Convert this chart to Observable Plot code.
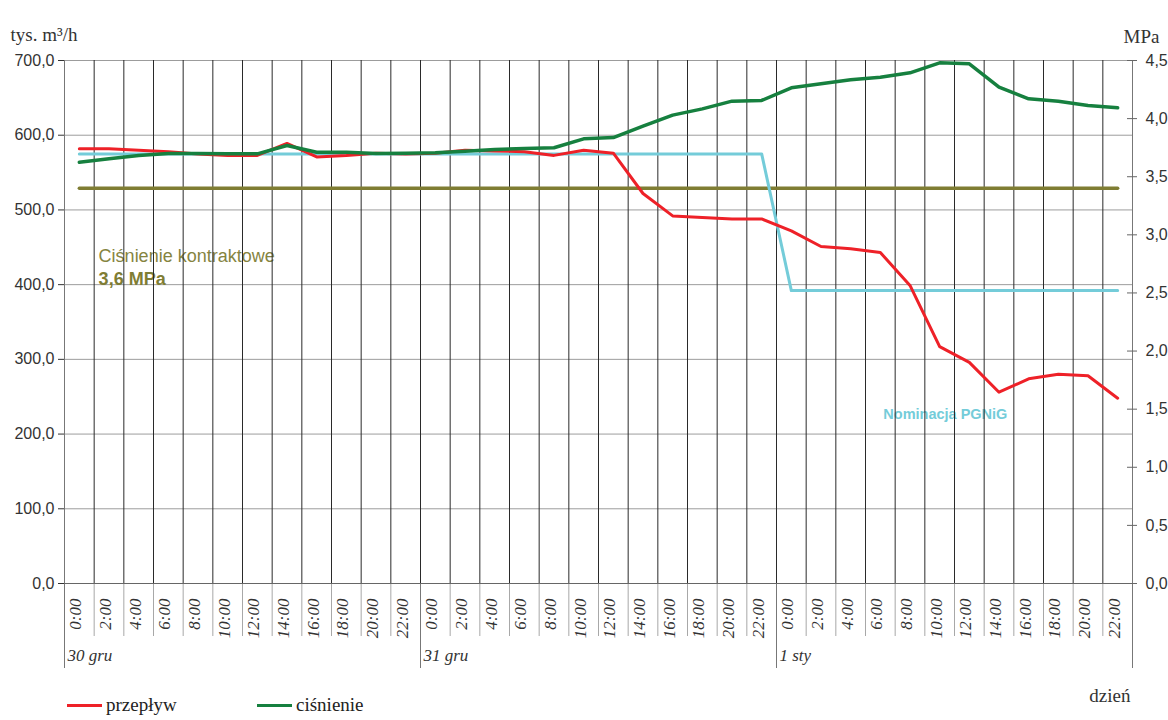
<!DOCTYPE html>
<html>
<head>
<meta charset="utf-8">
<script src="https://cdn.jsdelivr.net/npm/d3@7"></script>
<script src="https://cdn.jsdelivr.net/npm/@observablehq/plot@0.6"></script>
<style>
  html, body { margin: 0; padding: 0; background: #fff; }
  #wrap { position: relative; width: 1168px; height: 720px; overflow: hidden; }
  #legend { position: absolute; top: 694px; left: 67px; font-family: "Liberation Serif", serif; font-size: 19px; color: #222; }
  .item { position: absolute; white-space: nowrap; }
  .sw { position: absolute; top: 10px; width: 35px; height: 3px; }
  .lab { position: absolute; top: 0; left: 39px; }
</style>
</head>
<body>
<div id="wrap"></div>
<script>
// ---- data ----
const days = ["30 gru", "31 gru", "1 sty"];
const hours = ["0:00","2:00","4:00","6:00","8:00","10:00","12:00","14:00","16:00","18:00","20:00","22:00"];
// przepływ, tys. m3/h
const przeplyw = [
  582, 582, 580, 578, 575, 573, 573, 589, 571, 573, 576, 575,
  576, 580, 579, 578, 573, 580, 576, 522, 492, 490, 488, 488,
  472, 451, 448, 443, 399, 317, 296, 256, 274, 280, 278, 248
];
// ciśnienie, MPa
const cisnienie = [
  3.625, 3.654, 3.683, 3.700, 3.700, 3.697, 3.697, 3.769, 3.711, 3.711, 3.700, 3.702,
  3.706, 3.720, 3.734, 3.743, 3.749, 3.826, 3.837, 3.935, 4.030, 4.084, 4.150, 4.156,
  4.265, 4.300, 4.334, 4.356, 4.394, 4.480, 4.472, 4.270, 4.170, 4.150, 4.113, 4.093
];
// Nominacja PGNiG, tys. m3/h
const nominacja = [
  575, 575, 575, 575, 575, 575, 575, 575, 575, 575, 575, 575,
  575, 575, 575, 575, 575, 575, 575, 575, 575, 575, 575, 575,
  392, 392, 392, 392, 392, 392, 392, 392, 392, 392, 392, 392
];
// ciśnienie kontraktowe (line level, MPa)
const kontrakt = 3.4;
const leftTicks = [0, 100, 200, 300, 400, 500, 600, 700];
const rightTicks = [0, 0.5, 1, 1.5, 2, 2.5, 3, 3.5, 4, 4.5];
const annKontrakt = [{label: "Ciśnienie kontraktowe", x: 1.15, y: 438}];
const annKontraktVal = [{label: "3,6 MPa", x: 1.15, y: 407}];
const annNom = [{label: "Nominacja PGNiG", x: 27.6, y: 226}];

// ---- build ----
const K = 700 / 4.5; // MPa -> left-axis units
const fmt = v => v.toFixed(1).replace(".", ",");
const rows = hours.length ? d3.range(przeplyw.length).map(i => ({
  xc: i + 0.5,
  hour: hours[i % hours.length],
  flow: przeplyw[i],
  pres: cisnienie[i] * K,
  nom: nominacja[i],
  kon: kontrakt * K
})) : [];
const N = rows.length;
const dayStarts = days.map((d, i) => i * hours.length);

const RED = "#ee2128", GREEN = "#16803f", CYAN = "#74ccd9", OLIVE = "#7f7d33", OLIVE_T = "#85843f";
const SERIF = "Liberation Serif, serif";
const SANS = "Liberation Sans, Arial, sans-serif";

const chart = Plot.plot({
  width: 1168, height: 720,
  marginLeft: 64, marginRight: 36, marginTop: 60, marginBottom: 137,
  x: {domain: [0, N], axis: null},
  y: {domain: [0, 700], axis: null},
  style: {background: "white", fontFamily: SANS},
  marks: [
    Plot.ruleY(leftTicks, {stroke: "#9c9c9c", strokeWidth: 1}),
    Plot.text(annKontrakt, {x: "x", y: "y", text: "label", textAnchor: "start", fill: OLIVE_T, fontSize: 18, fontFamily: SANS}),
    Plot.text(annKontraktVal, {x: "x", y: "y", text: "label", textAnchor: "start", fill: OLIVE, fontSize: 18, fontWeight: "bold", fontFamily: SANS}),
    Plot.text(annNom, {x: "x", y: "y", text: "label", textAnchor: "start", fill: CYAN, fontSize: 14.5, fontWeight: "bold", fontFamily: SANS}),
    Plot.ruleX(d3.range(1, N), {stroke: "#2a2a2a", strokeWidth: 1}),
    Plot.ruleX(d3.range(1, N), {y1: 0, y2: 0, insetBottom: -53, stroke: "#a8a8a8", strokeWidth: 1}),
    Plot.ruleX(dayStarts.concat([N]), {y1: 0, y2: 0, insetBottom: -85, stroke: "#777", strokeWidth: 1}),
    Plot.ruleX([0, N], {stroke: "#777", strokeWidth: 1}),
    Plot.ruleY([0], {stroke: "#666", strokeWidth: 1}),
    Plot.ruleY(rightTicks.map(v => v * K), {x1: N, x2: N, insetLeft: -5, insetRight: -5, stroke: "#666", strokeWidth: 1}),
    Plot.axisY(leftTicks, {anchor: "left", tickSize: 6, tickPadding: 4, tickFormat: fmt, fontSize: 16, color: "#333", label: null}),
    Plot.axisY(rightTicks.map(v => v * K), {anchor: "right", tickSize: 0, tickPadding: 13, tickFormat: d => fmt(d / K), fontSize: 16, color: "#333", label: null}),
    Plot.line(rows, {x: "xc", y: "kon", stroke: OLIVE, strokeWidth: 3.5}),
    Plot.line(rows, {x: "xc", y: "nom", stroke: CYAN, strokeWidth: 3}),
    Plot.line(rows, {x: "xc", y: "flow", stroke: RED, strokeWidth: 3}),
    Plot.line(rows, {x: "xc", y: "pres", stroke: GREEN, strokeWidth: 3.5}),
    Plot.text(rows, {x: "xc", text: "hour", frameAnchor: "bottom", dy: 15, dx: 2, rotate: -90, textAnchor: "end",
      fontFamily: SERIF, fontStyle: "italic", fontSize: 17, fill: "#333"}),
    Plot.text(days, {x: (d, i) => dayStarts[i], text: d => d, frameAnchor: "bottom", dy: 77, dx: 3, textAnchor: "start",
      fontFamily: SERIF, fontStyle: "italic", fontSize: 17, fill: "#333"}),
    Plot.text(["tys. m³/h"], {frameAnchor: "top-left", dx: -54, dy: -33, textAnchor: "start", fontFamily: SERIF, fontSize: 19, fill: "#333"}),
    Plot.text(["MPa"], {frameAnchor: "top-right", dx: -9, dy: -31, textAnchor: "start", fontFamily: SERIF, fontSize: 19, fill: "#333"}),
    Plot.text(["dzień"], {frameAnchor: "bottom-right", dx: -2, dy: 118, textAnchor: "end", fontFamily: SERIF, fontSize: 19, fill: "#333"})
  ]
});
const wrap = document.getElementById("wrap");
wrap.appendChild(chart);

const legendItems = [{label: "przepływ", color: RED, left: 0}, {label: "ciśnienie", color: GREEN, left: 190}];
const lg = document.createElement("div");
lg.id = "legend";
legendItems.forEach(it => {
  const d = document.createElement("div");
  d.className = "item";
  d.style.left = it.left + "px";
  d.innerHTML = `<span class="sw" style="background:${it.color}"></span><span class="lab">${it.label}</span>`;
  lg.appendChild(d);
});
wrap.appendChild(lg);
</script>
</body>
</html>
